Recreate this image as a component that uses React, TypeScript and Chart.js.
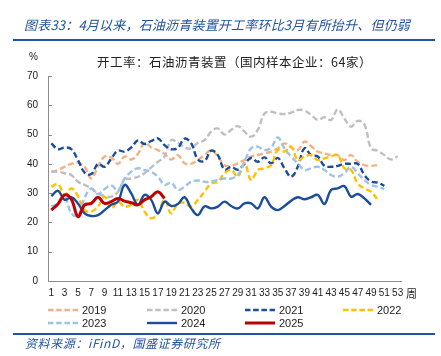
import React, { useEffect, useRef } from "react";
import { Chart, registerables } from "chart.js";

Chart.register(...registerables);

const weeks = [
  "1", "2", "3", "4", "5", "6", "7", "8", "9", "10",
  "11", "12", "13", "14", "15", "16", "17", "18", "19", "20",
  "21", "22", "23", "24", "25", "26", "27", "28", "29", "30",
  "31", "32", "33", "34", "35", "36", "37", "38", "39", "40",
  "41", "42", "43", "44", "45", "46", "47", "48", "49", "50",
  "51", "52", "53",
];

const yTicks = [0, 10, 20, 30, 40, 50, 60, 70];

const s2019 = [
  37.3, 37.9, 39, 40, 40.4, 39, 35, 39, 42.5, 42.2,
  40, 42.5, 41.5, 43.4, 47.2, 45.6, 44.7, 43.4, 41.5, 43,
  40.2, 40, 41.3, 43, 44.7, 42.5, 39.5, 39.3, 40.2, 41.3,
  42.5, 43, 43.6, 44.2, 45.3, 47, 45.6, 44.7, 47.6, 46.1,
  44.2, 43.6, 43, 43, 41.3, 43, 40.7, 39.6, 39.3, 39.6,
];

const s2020 = [
  37.3, 37.3, 36.8, 36.2, 33.9, 32.8, 31.6, 29.9, 29, 28.8,
  30.5, 34.5, 35, 35.6, 36.8, 38.8, 40.7, 42.5, 48.1, 47.2,
  45.6, 45.3, 47.2, 48.1, 51, 52.1, 50, 51.6, 52.9, 51,
  49.3, 51.6, 57.2, 57.8, 57.2, 57, 57.5, 58.4, 58.2, 56.7,
  55, 55.9, 55, 58.6, 55.5, 52.7, 54.7, 53.5, 45.3, 44.5,
  43, 41.5, 42.6,
];

const s2021 = [
  47, 45, 45.6, 45, 41.3, 37, 36.5, 40, 39, 41.8,
  44.5, 44.2, 45.6, 48, 46.8, 47.8, 48.7, 46.4, 45, 45.5,
  48.6, 47, 41.5, 41, 44.5, 43, 38, 39, 38, 40,
  42, 40.7, 42.2, 40.2, 42, 38.5, 35.6, 39, 45.3, 43,
  42.5, 39.3, 39, 39.3, 40, 40, 40, 36.2, 34, 33.6,
  32.5,
];

const s2022 = [
  32.2, 33.1, 29.4, 31.6, 29, 24.2, 23.7, 25.4, 28.8, 24.8,
  27.1, 25.4, 26, 27.7, 23.7, 21.4, 23.1, 27.7, 23.1, 26.5,
  26.7, 25.4, 27.7, 30.5, 33.3, 33.9, 36.8, 37.9, 35.6, 40.2,
  34.5, 37.9, 38.5, 39.6, 44.7, 44.2, 45.9, 41.3, 42.5, 43,
  41.3, 41.9, 42.5, 43, 38.5, 37.9, 33.3, 31.6, 30.5, 27.7,
];

const s2023 = [
  25.4, 26.5, 28.8, 23.1, 22.3, 28.5, 31.6, 29.7, 31.4, 32.6,
  31, 35, 37.3, 38.5, 37.9, 37.3, 35.6, 32.8, 33.6, 31.1,
  32.2, 33.9, 34.3, 33.9, 33.9, 34.5, 35, 35, 36.2, 40.7,
  45.3, 45.9, 44.7, 45.6, 49, 45.3, 42.5, 40.2, 37.9, 38.5,
  39, 37.9, 36.2, 35.6, 36.8, 39, 36.8, 34.5, 32.8, 32.2,
  31.4,
];

const s2024 = [
  29, 30.8, 27.7, 28.6, 26.5, 23.1, 22.2, 22.5, 24.2, 26,
  27.1, 32.8, 29.9, 26, 29.4, 27.7, 23.1, 27.1, 25.6, 26.3,
  28.6, 24.8, 22.5, 25.5, 24.8, 25.4, 27.1, 25.6, 24.8, 26.5,
  26.5, 24.8, 28.6, 25.4, 24.2, 25.6, 27.4, 28.6, 27.9, 28.6,
  29.4, 26.3, 31.1, 31.6, 32.4, 28.8, 29.7, 28.2, 26,
];

const s2025 = [
  24.2, 26.3, 29.4, 27.9, 22, 26, 26.5, 28.6, 26.5, 27.1,
  28.2, 27.3, 26.7, 26, 27.7, 28.8, 30.5, 28.2,
];

const seriesNames = ["2019", "2020", "2021", "2022", "2023", "2024", "2025"];
const seriesData = [s2019, s2020, s2021, s2022, s2023, s2024, s2025];
const seriesColors = ["#F4B183", "#BFBFBF", "#1A4E9C", "#FFC000", "#9DC3E6", "#1A4E9C", "#C00000"];
const seriesDashed = [true, true, true, true, true, false, false];
const seriesWidth = [2.4, 2.4, 2.4, 2.4, 2.4, 2.4, 3];
const seriesOrder = [6, 5, 4, 3, 2, 1, 0];

const legendPos = [
  [48, 310], [147, 310], [245, 310], [343, 310],
  [48, 323], [147, 323], [245, 323],
];

const TITLE = "图表33：4月以来，石油沥青装置开工率环比3月有所抬升、但仍弱";
const CHART_TITLE = "开工率：石油沥青装置（国内样本企业：64家）";
const SOURCE = "资料来源：iFinD，国盛证券研究所";
const BLUE = "#2152A3";
const LATIN = "'Liberation Sans', Arial, sans-serif";
const CJK = "'Noto Sans CJK SC', 'Noto Sans', sans-serif";

const innerTicks = {
  id: "innerTicks",
  afterDraw(chart: any) {
    const y = chart.scales.y;
    const ctx = chart.ctx;
    ctx.save();
    ctx.strokeStyle = "#8C8C8C";
    ctx.lineWidth = 1;
    y.ticks.forEach((t: any) => {
      const py = Math.round(y.getPixelForValue(t.value)) + 0.5;
      ctx.beginPath();
      ctx.moveTo(y.right, py);
      ctx.lineTo(y.right + 4, py);
      ctx.stroke();
    });
    ctx.restore();
  },
};

export default function App() {
  const ref = useRef<HTMLCanvasElement>(null);

  useEffect(() => {
    if (!ref.current) return;
    const datasets = seriesNames.map((name, i) => ({
      label: name,
      data: seriesData[i],
      borderColor: seriesColors[i],
      backgroundColor: seriesColors[i],
      borderWidth: seriesWidth[i],
      borderDash: seriesDashed[i] ? [6, 3] : [],
      pointRadius: 0,
      pointHoverRadius: 0,
      fill: false,
      tension: 0.4,
      order: seriesOrder[i],
    }));
    const chart = new Chart(ref.current, {
      type: "line",
      data: { labels: weeks, datasets },
      plugins: [innerTicks],
      options: {
        animation: false,
        responsive: false,
        events: [],
        layout: { padding: { top: 76, left: 0, right: 40, bottom: 45 } },
        plugins: {
          legend: { display: false },
          title: { display: false },
          tooltip: { enabled: false },
        },
        scales: {
          x: {
            type: "category",
            offset: true,
            afterFit: (s: any) => {
              s.height = 30;
            },
            grid: { display: false, drawTicks: false },
            border: { display: true, color: "#8C8C8C", width: 1 },
            ticks: {
              autoSkip: false,
              maxRotation: 0,
              minRotation: 0,
              padding: 6,
              color: "#222",
              font: { family: LATIN, size: 10 },
              callback: (_v: any, i: number) => (i % 2 === 0 ? weeks[i] : ""),
            },
          },
          y: {
            min: yTicks[0],
            max: yTicks[yTicks.length - 1],
            afterFit: (s: any) => {
              s.width = 48;
            },
            afterBuildTicks: (s: any) => {
              s.ticks = yTicks.map((v) => ({ value: v }));
            },
            grid: { display: false, drawTicks: false },
            border: { display: true, color: "#8C8C8C", width: 1 },
            ticks: {
              padding: 10,
              color: "#222",
              font: { family: LATIN, size: 10 },
            },
          },
        },
      },
    });
    return () => chart.destroy();
  }, []);

  return (
    <div
      style={{
        position: "absolute",
        left: 0,
        top: 0,
        width: 441,
        height: 356,
        background: "#fff",
        overflow: "hidden",
      }}
    >
      <canvas
        ref={ref}
        width={441}
        height={356}
        style={{ position: "absolute", left: 0, top: 0, width: 441, height: 356 }}
      />
      <div
        style={{
          position: "absolute",
          left: 24,
          top: 16,
          fontFamily: CJK,
          fontStyle: "italic",
          fontSize: 13,
          lineHeight: "18px",
          letterSpacing: "0.2px",
          color: BLUE,
          whiteSpace: "nowrap",
        }}
      >
        {TITLE}
      </div>
      <div style={{ position: "absolute", left: 13, top: 39, width: 422, height: 2, background: BLUE }} />
      <div
        style={{
          position: "absolute",
          left: 29,
          top: 50,
          fontFamily: LATIN,
          fontSize: 10,
          lineHeight: "14px",
          color: "#222",
        }}
      >
        %
      </div>
      <div
        style={{
          position: "absolute",
          left: 97,
          top: 53,
          fontFamily: CJK,
          fontSize: 12.5,
          lineHeight: "18px",
          letterSpacing: "0.5px",
          color: "#222",
          whiteSpace: "nowrap",
        }}
      >
        {CHART_TITLE}
      </div>
      <div
        style={{
          position: "absolute",
          left: 406,
          top: 285,
          fontFamily: CJK,
          fontSize: 11,
          lineHeight: "16px",
          color: "#222",
        }}
      >
        周
      </div>
      {seriesNames.map((name, i) => (
        <div
          key={name}
          style={{
            position: "absolute",
            left: legendPos[i][0],
            top: legendPos[i][1] - 7,
            height: 14,
            display: "flex",
            alignItems: "center",
            whiteSpace: "nowrap",
          }}
        >
          <svg width={30} height={6} style={{ display: "block" }}>
            <line
              x1={0}
              y1={3}
              x2={30}
              y2={3}
              stroke={seriesColors[i]}
              strokeWidth={seriesWidth[i]}
              strokeDasharray={seriesDashed[i] ? "5.5 2.7" : undefined}
            />
          </svg>
          <span
            style={{
              marginLeft: 4,
              fontFamily: LATIN,
              fontSize: 11,
              lineHeight: "14px",
              color: "#222",
            }}
          >
            {name}
          </span>
        </div>
      ))}
      <div style={{ position: "absolute", left: 13, top: 333, width: 422, height: 2, background: BLUE }} />
      <div
        style={{
          position: "absolute",
          left: 25,
          top: 335,
          fontFamily: CJK,
          fontStyle: "italic",
          fontSize: 12,
          lineHeight: "16px",
          letterSpacing: "0.6px",
          color: BLUE,
          whiteSpace: "nowrap",
        }}
      >
        {SOURCE}
      </div>
    </div>
  );
}
